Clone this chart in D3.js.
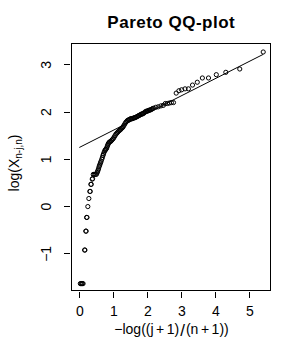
<!DOCTYPE html>
<html>
<head>
<meta charset="utf-8">
<script src="https://cdn.jsdelivr.net/npm/d3@7"></script>
<style>
  body { margin: 0; background: white; }
  text { font-family: "Liberation Sans", Arial, sans-serif; }
</style>
</head>
<body>
<div id="chart"></div>
<script>
// QQ points: x = -log((j+1)/(n+1)), y = log(X)
const qqX = [0.03, 0.05, 0.07, 0.09, 0.11,
    0.155, 0.165, 0.19, 0.20, 0.215, 0.225, 0.25, 0.28, 0.31, 0.32,
    0.34, 0.35, 0.38, 0.39, 0.41, 0.44, 0.47, 0.50, 0.52, 0.535,
    0.55, 0.565, 0.58, 0.595, 0.61, 0.625, 0.64, 0.66, 0.68, 0.695,
    0.71, 0.73, 0.75, 0.765, 0.78, 0.80, 0.815, 0.83, 0.845, 0.86,
    0.88, 0.90, 0.925, 0.95, 0.975, 1.00, 1.025, 1.05, 1.075, 1.10,
    1.125, 1.15, 1.175, 1.20, 1.225, 1.25, 1.27, 1.29, 1.315, 1.34,
    1.365, 1.39, 1.415, 1.44, 1.465, 1.49, 1.515, 1.54, 1.565, 1.59,
    1.615, 1.64, 1.665, 1.69, 1.715, 1.74, 1.765, 1.79, 1.815, 1.84,
    1.86, 1.88, 1.905, 1.93, 1.955, 1.98, 2.005, 2.03, 2.055, 2.08,
    2.105, 2.13, 2.155, 2.18, 2.25, 2.32, 2.40,
    2.47, 2.53, 2.59, 2.65, 2.71, 2.77, 2.85, 2.93, 3.01, 3.11,
    3.21, 3.33, 3.47, 3.62, 3.80, 4.03, 4.31, 4.72, 5.41];
const qqY = [-1.64, -1.64, -1.64, -1.64, -1.64,
    -0.93, -0.93, -0.53, -0.53, -0.24, -0.24, -0.01, 0.16, 0.31, 0.31,
    0.46, 0.46, 0.57, 0.58, 0.67, 0.67, 0.67, 0.67, 0.70, 0.73,
    0.76, 0.79, 0.83, 0.86, 0.89, 0.92, 0.95, 0.99, 1.03, 1.07,
    1.10, 1.14, 1.17, 1.19, 1.20, 1.22, 1.25, 1.28, 1.31, 1.33,
    1.35, 1.36, 1.37, 1.39, 1.41, 1.43, 1.46, 1.49, 1.52, 1.54,
    1.56, 1.58, 1.60, 1.61, 1.63, 1.65, 1.66, 1.68, 1.71, 1.74,
    1.77, 1.79, 1.81, 1.82, 1.83, 1.84, 1.85, 1.85, 1.85, 1.86,
    1.87, 1.87, 1.88, 1.89, 1.90, 1.91, 1.92, 1.93, 1.94, 1.95,
    1.95, 1.96, 1.97, 1.99, 2.00, 2.01, 2.01, 2.02, 2.03, 2.03,
    2.04, 2.05, 2.06, 2.07, 2.09, 2.10, 2.12,
    2.13, 2.17, 2.17, 2.18, 2.19, 2.19, 2.39, 2.44, 2.46, 2.48,
    2.48, 2.56, 2.62, 2.71, 2.71, 2.78, 2.83, 2.90, 3.26];

// fitted line end points
const lineX = [0, 5.41];
const lineY = [1.24, 3.21];

const xTicks = [0, 1, 2, 3, 4, 5];
const yTicks = [-1, 0, 1, 2, 3];

const width = 300, height = 350;
const box = { left: 71, right: 270.7, top: 43, bottom: 290.7 };

var svg = d3.select("#chart")
    .append("svg")
    .attr("width", width)
    .attr("height", height);

svg.append("rect")
    .attr("width", width)
    .attr("height", height)
    .attr("fill", "white");

var xScale = d3.scaleLinear()
    .domain([-0.245, 5.63])
    .range([box.left, box.right]);

var yScale = d3.scaleLinear()
    .domain([-1.79, 3.45])
    .range([box.bottom, box.top]);

// axes, ticks only (sit a little away from the box)
var xAxis = svg.append("g")
    .attr("transform", `translate(0,${box.bottom + 1.5})`)
    .call(d3.axisBottom(xScale).tickValues(xTicks).tickSize(6).tickPadding(8).tickFormat(d3.format("d")));
var yAxis = svg.append("g")
    .attr("transform", `translate(${box.left - 1.5},0)`)
    .call(d3.axisLeft(yScale).tickValues(yTicks).tickSize(6).tickFormat(d3.format("d")));

svg.selectAll(".domain").remove();
svg.selectAll(".tick line").attr("stroke", "black").attr("shape-rendering", "crispEdges");
xAxis.selectAll(".tick text")
    .attr("font-size", 14)
    .attr("font-family", "Liberation Sans")
    .attr("fill", "black");

// y tick labels are parallel to the axis
yAxis.selectAll(".tick text")
    .attr("font-size", 14)
    .attr("font-family", "Liberation Sans")
    .attr("fill", "black")
    .attr("x", null)
    .attr("dy", null)
    .attr("text-anchor", "middle")
    .attr("transform", "translate(-18.5,0) rotate(-90)");

svg.append("rect")
    .attr("x", box.left)
    .attr("y", box.top)
    .attr("width", box.right - box.left)
    .attr("height", box.bottom - box.top)
    .attr("fill", "none")
    .attr("stroke", "black")
    .attr("stroke-width", 1)
    .attr("shape-rendering", "crispEdges");

svg.append("line")
    .attr("x1", xScale(lineX[0]))
    .attr("y1", yScale(lineY[0]))
    .attr("x2", xScale(lineX[1]))
    .attr("y2", yScale(lineY[1]))
    .attr("stroke", "black")
    .attr("stroke-width", 1);

svg.selectAll(".dot")
    .data(qqX)
    .enter()
    .append("circle")
    .attr("class", "dot")
    .attr("cx", d => xScale(d))
    .attr("cy", (d, i) => yScale(qqY[i]))
    .attr("r", 2.1)
    .attr("fill", "none")
    .attr("stroke", "black")
    .attr("stroke-width", 1);

// title
svg.append("text")
    .attr("x", 171.3)
    .attr("y", 27.5)
    .attr("text-anchor", "middle")
    .attr("font-size", 17)
    .attr("font-weight", "bold")
    .attr("letter-spacing", 0.5)
    .text("Pareto QQ-plot");

// x label, with plotmath-like spacing around the operators
var xl = svg.append("text")
    .attr("x", 171.5)
    .attr("y", 334)
    .attr("text-anchor", "middle")
    .attr("font-size", 14);
xl.append("tspan").text("\u2212log((j");
xl.append("tspan").attr("dx", 2.5).text("+");
xl.append("tspan").attr("dx", 2.5).text("1)");
xl.append("tspan").attr("font-size", 17).attr("dx", 1).attr("dy", 1.5).text("/");
xl.append("tspan").attr("dx", 1).attr("dy", -1.5).text("(n");
xl.append("tspan").attr("dx", 2.5).text("+");
xl.append("tspan").attr("dx", 2.5).text("1))");

// y label
var yl = svg.append("text")
    .attr("transform", "translate(19,163) rotate(-90)")
    .attr("text-anchor", "middle")
    .attr("font-size", 14);
yl.append("tspan").text("log(X");
yl.append("tspan").attr("font-size", 10).attr("dy", 3).text("n-j,n");
yl.append("tspan").attr("dy", -3).text(")");
</script>
</body>
</html>
